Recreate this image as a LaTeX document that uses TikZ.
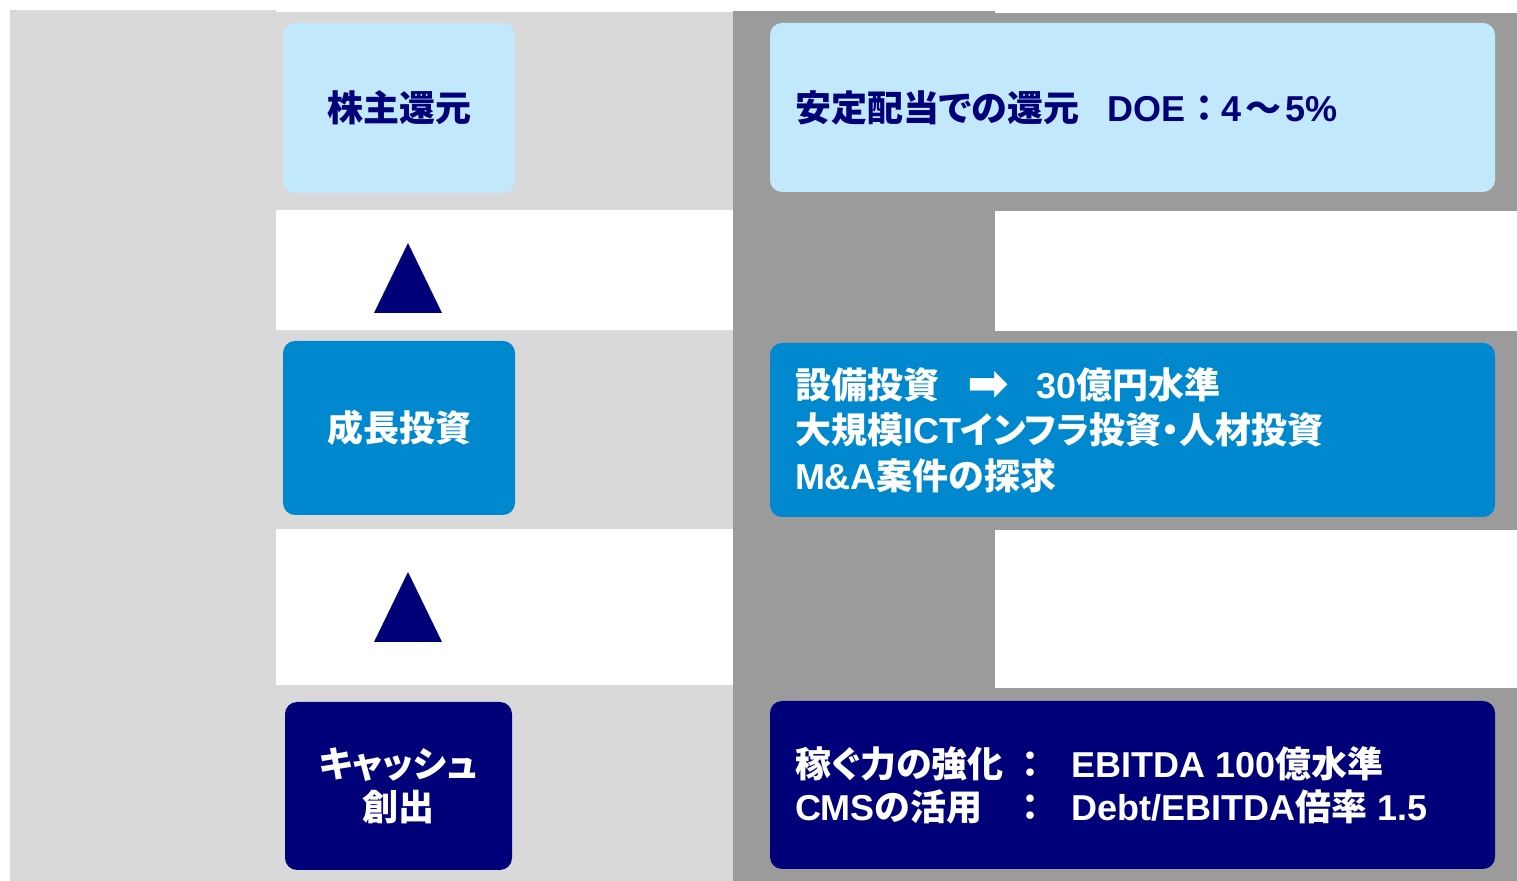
\documentclass[tikz,border=0pt]{standalone}
\usepackage{fontspec}
\usepackage{tikz}
\setmainfont{Liberation Sans}
\newfontfamily\jpf[RawFeature=+palt]{Noto Sans CJK JP}
\newfontfamily\arrf{DejaVu Sans}
\newcommand{\jp}[1]{{\jpf #1}}
\definecolor{boxnavy}{RGB}{0,0,120}
\definecolor{boxblue}{RGB}{0,136,206}
\definecolor{boxpale}{RGB}{194,232,252}
\definecolor{bglight}{RGB}{217,217,217}
\definecolor{bgdark}{RGB}{155,155,155}

\begin{document}
\begin{tikzpicture}[x=0.5pt,y=-0.5pt]
            \tikzstyle{every node}+=[inner sep=0pt, font=\bfseries\fontsize{18}{22}\selectfont]
            \tikzstyle{stagebox}=[rounded corners=6pt, minimum width=116pt]
            \tikzstyle{planbox}=[rounded corners=6pt, minimum width=362.5pt]
            \useasboundingbox (0,0) rectangle (1517,881);
            % background bands
            \fill [bglight] (10,10) rectangle (276,881);
            \fill [bglight] (276,12) rectangle (733,210);
            \fill [bglight] (276,330) rectangle (733,529);
            \fill [bglight] (276,685) rectangle (733,881);
            \fill [bgdark] (733,11) rectangle (995,881);
            \fill [bgdark] (995,13) rectangle (1517,211);
            \fill [bgdark] (995,331) rectangle (1517,530);
            \fill [bgdark] (995,688) rectangle (1517,881);
            % left column
            \node [stagebox, fill=boxpale, minimum height=85pt, text=boxnavy] (share) at (399,108) {\jp{株主還元}};
            \node [stagebox, fill=boxblue, minimum height=87pt, text=white] (growth) at (399,428) {\jp{成長投資}};
            \node [stagebox, fill=boxnavy, minimum width=113.5pt, minimum height=84pt, text=white, align=center,
                   font=\bfseries\fontsize{18}{21.5}\selectfont] (cash) at (398.5,786) {\jp{キャッシュ}\\\jp{創出}};
            \fill [boxnavy] (408,243) -- (442,313) -- (374,313) -- cycle;
            \fill [boxnavy] (408,572) -- (442,642) -- (374,642) -- cycle;
            % right column
            \node [planbox, fill=boxpale, minimum height=84.5pt] (shareplan) at (1132.5,107.5) {};
            \node [planbox, fill=boxblue, minimum height=87pt] (growthplan) at (1132.5,430) {};
            \node [planbox, fill=boxnavy, minimum height=84pt] (cashplan) at (1132.5,785) {};
            \node [anchor=west, text=boxnavy] (sharetxt) at ([xshift=12.5pt]shareplan.west)
                {\jp{安定配当での還元}\hspace{14pt}DOE\hspace{5pt}\jp{：}\hspace{4pt}4\hspace{2pt}\jp{～}\hspace{2pt}5\%};
            \node [anchor=west, text=white, align=left, font=\bfseries\fontsize{18}{22.75}\selectfont] (growthtxt)
                at ([xshift=12.5pt]growthplan.west)
                {\jp{設備投資}\hspace{14pt}\raisebox{-1pt}{\arrf\fontsize{25}{25}\selectfont ➡}\hspace{14pt}30\jp{億円水準}\\
                 \jp{大規模}ICT\jp{インフラ投資・人材投資}\\
                 M\&A\jp{案件の探求}};
            \node [anchor=west, text=white, font=\bfseries\fontsize{18}{21.5}\selectfont] (cashtxt)
                at ([xshift=12.5pt, yshift=-2.5pt]cashplan.west)
                {\begin{tabular}{@{}l@{\hspace{9pt}}l@{\hspace{16pt}}l@{}}
                 \jp{稼ぐ力の強化} & \jp{：} & EBITDA 100\jp{億水準}\\
                 CMS\jp{の活用} & \jp{：} & Debt/EBITDA\jp{倍率} 1.5
                 \end{tabular}};
        \end{tikzpicture}
\end{document}
